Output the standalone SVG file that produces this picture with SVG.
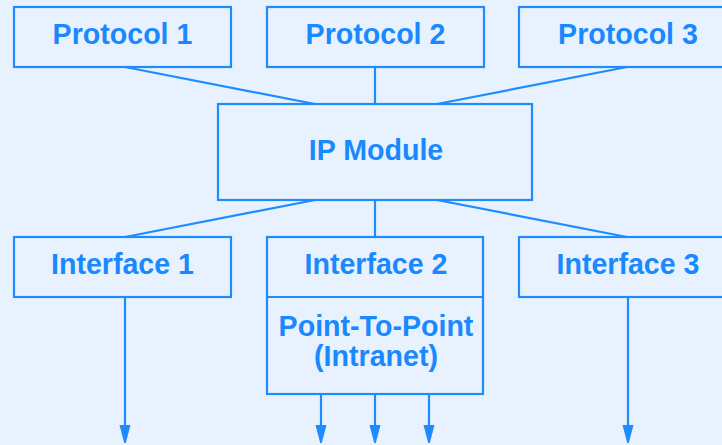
<svg xmlns="http://www.w3.org/2000/svg" width="722" height="445" viewBox="0 0 722 445">
<defs>
<style>
.box{fill:#e8f2fe;stroke:#1e8bff;stroke-width:2.2}
.ln{fill:none;stroke:#1e8bff;stroke-width:2.2}
.ah{fill:#1e8bff}
.t{font-family:"Liberation Sans",Arial,sans-serif;font-weight:bold;font-size:28.6px;fill:#1a88ff;text-anchor:middle}
</style>
<path id="head" class="ah" d="M-5.5,-18 L5.5,-18 L0.8,0 L-0.8,0 Z"/>
</defs>
<rect width="722" height="445" fill="#e8f2fe"/>
<g id="connectors">
<line class="ln" x1="125" y1="67" x2="315" y2="104"/>
<line class="ln" x1="375" y1="67" x2="375" y2="104"/>
<line class="ln" x1="627" y1="67" x2="437" y2="104"/>
<line class="ln" x1="315" y1="200" x2="125" y2="237"/>
<line class="ln" x1="375" y1="200" x2="375" y2="237"/>
<line class="ln" x1="437" y1="200" x2="627" y2="237"/>
<line class="ln" x1="125" y1="297" x2="125" y2="428"/>
<line class="ln" x1="321" y1="394" x2="321" y2="428"/>
<line class="ln" x1="375" y1="394" x2="375" y2="428"/>
<line class="ln" x1="429" y1="394" x2="429" y2="428"/>
<line class="ln" x1="628" y1="297" x2="628" y2="428"/>
<use href="#head" x="125" y="443"/>
<use href="#head" x="321" y="443"/>
<use href="#head" x="375" y="443"/>
<use href="#head" x="429" y="443"/>
<use href="#head" x="628" y="443"/>
</g>
<g id="protocol1"><rect class="box" x="14" y="7" width="217" height="60"/><text class="t" x="122.5" y="43.5">Protocol 1</text></g>
<g id="protocol2"><rect class="box" x="267" y="7" width="217" height="60"/><text class="t" x="375.5" y="43.5">Protocol 2</text></g>
<g id="protocol3"><rect class="box" x="519" y="7" width="217" height="60"/><text class="t" x="628" y="43.5">Protocol 3</text></g>
<g id="ipmodule"><rect class="box" x="218" y="104" width="314" height="96"/><text class="t" x="376" y="159.5">IP Module</text></g>
<g id="interface1"><rect class="box" x="14" y="237" width="217" height="60"/><text class="t" x="122.5" y="273.5">Interface 1</text></g>
<g id="interface2"><rect class="box" x="267" y="237" width="216" height="157"/><line class="ln" x1="267" y1="297" x2="483" y2="297"/><text class="t" x="376" y="273.5">Interface 2</text><text class="t" x="376" y="336">Point-To-Point</text><text class="t" x="376" y="366">(Intranet)</text></g>
<g id="interface3"><rect class="box" x="519" y="237" width="217" height="60"/><text class="t" x="628" y="273.5">Interface 3</text></g>
</svg>
